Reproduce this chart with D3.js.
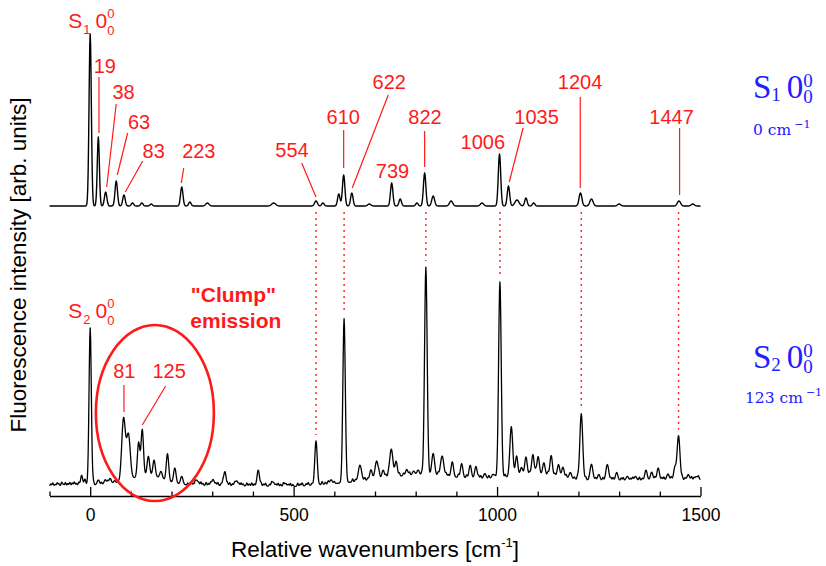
<!DOCTYPE html>
<html><head><meta charset="utf-8">
<script src="https://cdn.jsdelivr.net/npm/d3@7"></script>
<style>body{margin:0;background:#fff}svg{display:block}</style>
</head><body>
<svg id="chart" width="826" height="566"></svg>
<script>
// ---------- data (x in cm^-1, intensities in arb. units) ----------
const xDomain = [-100, 1500];
const xTickValues = [-100,0,100,200,300,400,500,600,700,800,900,1000,1100,1200,1300,1400,1500];
const xTickLabels = [0, 500, 1000, 1500];

// S1 origin excitation trace: constant offset + peaks [position, height, width]
const upperOffset = 290;
const upperPeaks = [
  [0,172,2.8],[20,69,2.6],[38,14,3],[64,25,3],[83,11,3],[104,3,3],[127,3,3],[150,2,3],
  [225,19,3],[245,4,3],[288,3,4],[451,3,5],[555,5,3.5],[572,3,3],[611,12,3],[623,31,3],
  [643,13,3],[686,2,4],[741,23,3],[762,7,3],[803,3,3],[822,33,3],[843,10,3.5],[887,5,4],
  [963,3,4],[1006,52,3],[1028,20,3],[1049,6,5],[1071,8,3],[1090,3,3],[1205,13,3.5],
  [1232,7,4],[1300,2,4],[1447,5,4],[1481,2,4]
];

// S2 origin excitation trace: baseline knots + peaks [position, height, width]
const lowerBaseline = [[-100,10],[0,11],[300,10.5],[500,9.5],[600,12],[800,15],[1000,16],[1200,15],[1500,16.5]];
const lowerPeaks = [
  [-21,10,2.5],[-13,6,2],
  [0,157,2.8],[20,5,3],[37,5,3],[49,6,3],[60,3,3],
  [140,10,40],[82,63,4.5],[94,45,4.5],[119,34,3],[128,46,3],[143,19,3],[157,16,3],
  [174,7,3],[190,27,3],[208,15,3],[225,8,3],
  [262,5,3],[302,6,3],[331,14,3],[360,5,3],[413,16,3],[450,4,3],[480,3,3],
  [555,44,3],[592,4,3],[624,164,3],
  [800,6,90],[663,16,4],[690,10,3],[704,18,4],[720,8,3],[740,28,4],[752,15,3],[778,6,3],[795,4,3],
  [806,5,3],[825,208,3.2],[843,22,3.5],[865,20,4],[890,15,3],[913,14,3],[934,13,3],[948,12,3],
  [970,5,3],[990,4,3],
  [1007,196,3.2],[1100,6,60],[1035,50,3.5],[1048,20,3],[1060,8,3],[1071,18,3],[1088,20,3],
  [1101,18,3],[1115,12,3],[1133,20,3],[1151,12,3],[1162,10,3],[1180,6,3],
  [1207,66,3.5],[1232,16,3.5],[1250,6,3],[1271,16,3.5],[1294,8,3],[1320,4,3],[1340,4,3],
  [1366,10,3],[1380,8,3],[1396,12,3],[1420,6,3],[1437,12,3],[1446,44,3.5],[1470,5,3],[1490,3,3]
];
// small jagged features of the S2 trace [position, height, width]
const lowerRipple = [
  [-97,2,1.5],[-92,3,1.5],[-86,1.5,1.5],[-81,3,1.5],[-77,2,1.5],[-70,3.5,1.5],[-66,1.5,1.5],
  [-61,3,1.5],[-55,2,1.5],[-50,3,1.5],[-44,2.5,1.5],[-39,3.5,1.5],[-34,2,1.5],[-28,3,1.5],
  [8,3,1.5],[28,2.5,1.5],[43,3,1.5],[68,2,1.5],
  [240,2,1.5],[248,3,1.5],[253,2,1.5],[258,3,1.5],[267,2,1.5],[272,3.5,1.5],[277,2,1.5],[285,3,1.5],
  [291,2,1.5],[296,3,1.5],[309,2.5,1.5],[314,3,1.5],[322,2,1.5],[326,3,1.5],[338,2,1.5],[343,3,1.5],
  [350,2,1.5],[355,3,1.5],[366,2,1.5],[371,3,1.5],[376,2,1.5],[385,3,1.5],[391,2,1.5],[397,3,1.5],
  [403,2,1.5],[420,3,1.5],[426,2,1.5],[431,3,1.5],[441,2,1.5],[446,3,1.5],[457,2,1.5],[462,3,1.5],
  [468,2,1.5],[475,3,1.5],[487,2,1.5],[492,3,1.5],[498,2,1.5],[510,3,1.5],[516,2,1.5],[521,3,1.5],
  [531,2,1.5],[536,3,1.5],[545,2,1.5],[570,3,1.5],[578,2,1.5],[585,3,1.5],[600,2,1.5],
  [645,3,1.5],[652,2,1.5],[675,3,1.5],[682,2,1.5],[710,3,1.5],[727,3,1.5],[733,2,1.5],[760,3,1.5],
  [770,2.5,1.5],[785,3,1.5],[815,2.5,1.5],[855,3,1.5],[875,3,1.5],[880,2,1.5],[905,3,1.5],
  [925,3,1.5],[955,2.5,1.5],[960,3,1.5],[980,3,1.5],[995,2,1.5],[1020,3,1.5],[1080,2.5,1.5],
  [1095,3,1.5],[1125,3,1.5],[1142,2.5,1.5],[1170,3,1.5],[1190,2,1.5],[1198,3,1.5],[1218,3,1.5],
  [1242,2.5,1.5],[1260,3,1.5],[1280,2.5,1.5],[1285,3,1.5],[1305,2.5,1.5],[1310,3,1.5],[1328,2,1.5],
  [1333,3,1.5],[1350,3,1.5],[1357,2,1.5],[1388,3,1.5],[1405,2.5,1.5],[1410,3,1.5],[1428,3,1.5],
  [1455,3,1.5],[1462,2,1.5],[1478,3,1.5],[1484,2,1.5],[1495,3,1.5]
];

// annotations (positions in data units)
const upperLabels = [
  {t:"19",   x:36,   y:423, line:[[21.6,419],[21.6,363]]},
  {t:"38",   x:82,   y:397, line:[[64,392],[40.6,309]]},
  {t:"63",   x:120,  y:367, line:[[92,363],[66.6,321]]},
  {t:"83",   x:156,  y:338, line:[[129,335],[86.3,304]]},
  {t:"223",  x:267,  y:338, line:[[229.8,328],[224,313]]},
  {t:"554",  x:496,  y:339, line:[[519.8,333],[555,299]]},
  {t:"610",  x:622,  y:372, line:[[623,366],[623,328]]},
  {t:"622",  x:735,  y:407, line:[[732.6,401],[644,308]]},
  {t:"739",  x:743,  y:318, line:null},
  {t:"822",  x:823,  y:372, line:[[822,365],[822,329]]},
  {t:"1006", x:965,  y:347, line:null},
  {t:"1035", x:1097, y:372, line:[[1064,368],[1030,314]]},
  {t:"1204", x:1204, y:407, line:[[1204.5,399],[1204.5,308]]},
  {t:"1447", x:1429, y:372, line:[[1448.6,368],[1448.6,301]]}
];
const lowerLabels = [
  {t:"81",  x:84,  y:118, line:[[83,111],[83,84]]},
  {t:"125", x:194, y:118, line:[[185.5,110],[128,71]]}
];
const correlated = [555, 624, 825, 1007, 1207, 1446];

// ---------- drawing ----------
const svg = d3.select("#chart");
const x = d3.scaleLinear().domain(xDomain).range([49.5, 700.5]);
const y = d3.scaleLinear().domain([0, 470]).range([496, 26]);

function peaksAt(peaks, v){
  let s = 0;
  for (const [p,h,w] of peaks){ const d=(v-p)/w; if (Math.abs(d)<8) s += h*Math.exp(-0.5*d*d); }
  return s;
}
const baseFn = d3.scaleLinear().domain(lowerBaseline.map(d=>d[0])).range(lowerBaseline.map(d=>d[1]));
const grid = d3.range(xDomain[0], xDomain[1]+0.01, 1);
const lowerAt = v => baseFn(v) + peaksAt(lowerPeaks, v) + peaksAt(lowerRipple, v);
const upperSeries = grid.map(v => [v, upperOffset + peaksAt(upperPeaks, v)]);
const lowerSeries = grid.map(v => [v, lowerAt(v)]);

const line = d3.line().x(d=>x(d[0])).y(d=>y(d[1]));

// dotted correlation lines
svg.append("g").selectAll("line").data(correlated).join("line")
  .attr("x1", d=>x(d)).attr("x2", d=>x(d))
  .attr("y1", y(upperOffset-6)).attr("y2", d=>y(lowerAt(d)+6))
  .attr("stroke","#ff2020").attr("stroke-width",1.4).attr("stroke-dasharray","2,4");

svg.append("path").datum(upperSeries).attr("d", line)
  .attr("fill","none").attr("stroke","#000").attr("stroke-width",1.4).attr("stroke-linejoin","round");
svg.append("path").datum(lowerSeries).attr("d", line)
  .attr("fill","none").attr("stroke","#000").attr("stroke-width",1.3).attr("stroke-linejoin","round");

// axis
const ax = svg.append("g").attr("transform", `translate(0,${y(0)})`)
  .call(d3.axisBottom(x).tickValues(xTickValues).tickSizeInner(-4.5).tickSizeOuter(0)
        .tickPadding(13).tickFormat(d => xTickLabels.includes(d) ? d : ""));
ax.select(".domain").attr("stroke-width",1.6);
ax.selectAll(".tick line").attr("stroke-width",1.3)
  .attr("y2", d => xTickLabels.includes(d) ? -9 : -4.5);
ax.selectAll(".tick text").attr("font-family","Liberation Sans, Arial, sans-serif")
  .attr("font-size",17.5).attr("fill","#000");

// axis titles
svg.append("text").attr("x",375).attr("y",557).attr("text-anchor","middle")
  .attr("font-family","Liberation Sans, Arial, sans-serif").attr("font-size",22.5)
  .call(t=>{ t.append("tspan").text("Relative wavenumbers [cm");
             t.append("tspan").attr("font-size",13).attr("dy",-10).text("-1");
             t.append("tspan").attr("dy",10).text("]"); });
svg.append("text").attr("transform","translate(26,265) rotate(-90)").attr("text-anchor","middle")
  .attr("font-family","Liberation Sans, Arial, sans-serif").attr("font-size",22.5)
  .text("Fluorescence intensity [arb. units]");

// red annotations
const red = "#ff1a1a";
const ann = svg.append("g").attr("fill",red).attr("font-family","Liberation Sans, Arial, sans-serif");
function leaders(list){
  ann.selectAll(null).data(list.filter(d=>d.line)).join("line")
    .attr("x1",d=>x(d.line[0][0])).attr("y1",d=>y(d.line[0][1]))
    .attr("x2",d=>x(d.line[1][0])).attr("y2",d=>y(d.line[1][1]))
    .attr("stroke",red).attr("stroke-width",1.2);
  ann.selectAll(null).data(list).join("text")
    .attr("x",d=>x(d.x)).attr("y",d=>y(d.y)).attr("text-anchor","middle")
    .attr("font-size",20).text(d=>d.t);
}
leaders(upperLabels); leaders(lowerLabels);

function origin(g, px, py, sub){
  const t = g.append("text").attr("x",px).attr("y",py).attr("font-size",21);
  t.append("tspan").text("S");
  t.append("tspan").attr("font-size",13).attr("dx",1).attr("dy",6).text(sub);
  t.append("tspan").attr("dx",5).attr("dy",-6).text("0");
  t.append("tspan").attr("font-size",13).attr("dx",0).attr("dy",-10).text("0");
  t.append("tspan").attr("font-size",13).attr("dx",-7.2).attr("dy",17).text("0");
}
origin(ann, x(-54), y(468), "1");
origin(ann, x(-54), y(178), "2");

ann.append("text").attr("x",x(352)).attr("y",y(194)).attr("text-anchor","middle")
  .attr("font-size",21).attr("font-weight","bold").text("\"Clump\"");
ann.append("text").attr("x",x(358)).attr("y",y(168)).attr("text-anchor","middle")
  .attr("font-size",21).attr("font-weight","bold").text("emission");
ann.append("ellipse").attr("cx",x(159)).attr("cy",y(83))
  .attr("rx",x(159+145)-x(159)).attr("ry",y(0)-y(88))
  .attr("fill","none").attr("stroke",red).attr("stroke-width",2.6);

// blue state labels
const blue = "#2020ff";
const bl = svg.append("g").attr("fill",blue);
function stateLabel(px, py, sub, px2, py2, energy){
  const t = bl.append("text").attr("x",px).attr("y",py).attr("font-size",33)
    .attr("font-family","Liberation Serif, 'DejaVu Serif', serif");
  t.append("tspan").text("S");
  t.append("tspan").attr("font-size",19).attr("dy",2.5).text(sub);
  t.append("tspan").attr("dx",6).attr("dy",-2.5).text("0");
  t.append("tspan").attr("font-size",19).attr("dy",-11).text("0");
  t.append("tspan").attr("font-size",19).attr("dx",-9.5).attr("dy",16).text("0");
  const e = bl.append("text").attr("x",px2).attr("y",py2).attr("font-size",15.5)
    .attr("font-family","'DejaVu Serif', 'Liberation Serif', serif");
  e.append("tspan").text(energy + " cm");
  e.append("tspan").attr("font-size",11).attr("dx",3).attr("dy",-7).text("\u22121");
}
stateLabel(753, 98, "1", 753, 135, "0");
stateLabel(753, 368, "2", 745, 403, "123");
</script>
</body></html>
